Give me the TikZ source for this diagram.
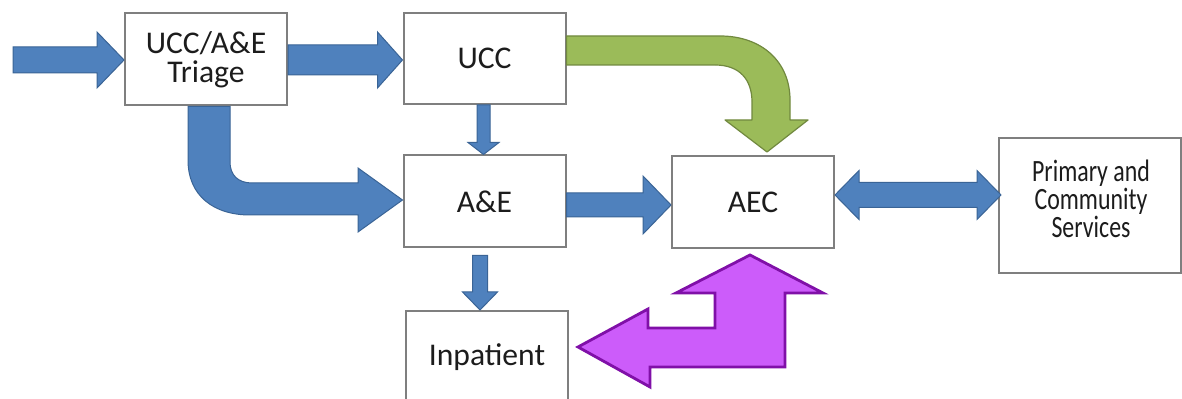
\documentclass[tikz,border=0pt]{standalone}
\usepackage{fontspec}
\setmainfont{Carlito}
\usetikzlibrary{calc}
\definecolor{bfill}{HTML}{4F81BD}
\definecolor{bline}{HTML}{3A6496}
\definecolor{gfill}{HTML}{9BBB59}
\definecolor{gline}{HTML}{71893F}
\definecolor{pfill}{HTML}{CC5CFA}
\definecolor{pline}{HTML}{8010A8}
\definecolor{boxline}{HTML}{7F7F7F}
\definecolor{txt}{HTML}{1C1C1C}
\newcommand\blockarrow[6]{%
  \coordinate (hb) at ($#3!#6!#2$);
  \draw[#1] ($#2!#4!90:#3$) -- ($(hb)!#4!-90:#2$) -- ($(hb)!#5!-90:#2$) -- #3
    -- ($(hb)!#5!90:#2$) -- ($(hb)!#4!90:#2$) -- ($#2!#4!-90:#3$) -- cycle;}
\newcommand\dblarrow[6]{%
  \coordinate (hbA) at ($#2!#6!#3$);
  \coordinate (hbB) at ($#3!#6!#2$);
  \draw[#1] #2 -- ($(hbA)!#5!90:#3$) -- ($(hbA)!#4!90:#3$) -- ($(hbB)!#4!-90:#2$)
    -- ($(hbB)!#5!-90:#2$) -- #3 -- ($(hbB)!#5!90:#2$) -- ($(hbB)!#4!90:#2$)
    -- ($(hbA)!#4!-90:#3$) -- ($(hbA)!#5!-90:#3$) -- cycle;}
\tikzset{
  box/.style={draw=boxline, line width=1pt, fill=white, text=txt,
    minimum width=81pt, minimum height=46pt, inner sep=0pt, align=center,
    font=\fontsize{15.8}{14.5}\selectfont},
  lbl/.style={text=txt, inner sep=0pt, align=center, font=\fontsize{15.5}{14}\selectfont},
  barrow/.style={fill=bfill, draw=bline, line width=0.5pt, line join=miter},
  garrow/.style={fill=gfill, draw=gline, line width=0.6pt},
  parrow/.style={fill=pfill, draw=pline, line width=1.4pt, line join=miter},
}
\begin{document}
\begin{tikzpicture}[x=0.5pt, y=-0.5pt]
\useasboundingbox (0,0) rectangle (1182,399);
\fill[white] (0,0) rectangle (1182,399);

% boxes
\node[box] (triage) at (206,59.5) {UCC/A\&E\\Triage};
\node[box, minimum height=45.5pt] (ucc) at (484.5,58.5) {UCC};
\node[box] (ae) at (484.5,201.5) {A\&E};
\node[box] (aec) at (753,202) {AEC};
\node[box] (inp) at (487,357) {Inpatient};
\node[box, minimum width=91pt, minimum height=67.5pt] (prim) at (1090,205.5) {};
\node[lbl] (primtxt) at (1091,199)
  {\scalebox{0.77}[1]{Primary and}\\\scalebox{0.77}[1]{Community}\\\scalebox{0.77}[1]{Services}};

% straight block arrows
\coordinate (inS) at (13,60);
\coordinate (inE) at (triage.west |- 0,60);
\blockarrow{barrow}{(inS)}{(inE)}{6.5pt}{14pt}{13.5pt}

\coordinate (tuS) at (triage.east |- 0,60);
\coordinate (tuE) at (ucc.west |- 0,60);
\blockarrow{barrow}{(tuS)}{(tuE)}{7.5pt}{14pt}{12.5pt}

\coordinate (uaS) at (ucc.south -| 483.5,0);
\coordinate (uaE) at (ae.north -| 483.5,0);
\blockarrow{barrow}{(uaS)}{(uaE)}{3.25pt}{7.75pt}{6pt}

\coordinate (aiS) at ($(ae.south -| 480,0)+(0,7)$);
\coordinate (aiE) at (inp.north -| 480,0);
\blockarrow{barrow}{(aiS)}{(aiE)}{3.75pt}{8.75pt}{9pt}

\coordinate (acS) at (ae.east |- 0,205);
\coordinate (acE) at (aec.west |- 0,205);
\blockarrow{barrow}{(acS)}{(acE)}{6pt}{14.5pt}{14pt}

\coordinate (apS) at (aec.east |- 0,195);
\coordinate (apE) at ($(prim.west |- 0,195)+(3,0)$);
\dblarrow{barrow}{(apS)}{(apE)}{6.25pt}{12.25pt}{12pt}

% bent blue arrow: triage -> A&E
\draw[barrow] (triage.south -| 188,0) -- (188,160)
  .. controls (188,196) and (214,215) .. (250,215) -- (358,215) -- (358,232)
  -- (ae.west |- 0,200) -- (358,168) -- (358,183) -- (252,183)
  .. controls (238,183) and (230,175) .. (230,162) -- (triage.south -| 230,0) -- cycle;

% green curved arrow: UCC -> AEC
\draw[garrow, line join=round] (ucc.east |- 0,36) -- (720,36)
  .. controls (762,36) and (790,62) .. (790,100) -- (790,120) -- (808,120)
  -- ($(aec.north -| 767,0)+(0,-3)$) -- (725,120) -- (752,120) -- (752,102)
  .. controls (752,80) and (740,65) .. (715,65) -- (ucc.east |- 0,65) -- cycle;

% purple left-up arrow: AEC <-> Inpatient
\draw[parrow] ($(aec.south -| 750,0)+(0,6)$) -- (823,293) -- (785,293) -- (785,367)
  -- (650,367) -- (650,387) -- ($(inp.east |- 0,347)+(9,0)$) -- (648,309) -- (648,328)
  -- (715,328) -- (715,293) -- (676,293) -- cycle;
\end{tikzpicture}
\end{document}
